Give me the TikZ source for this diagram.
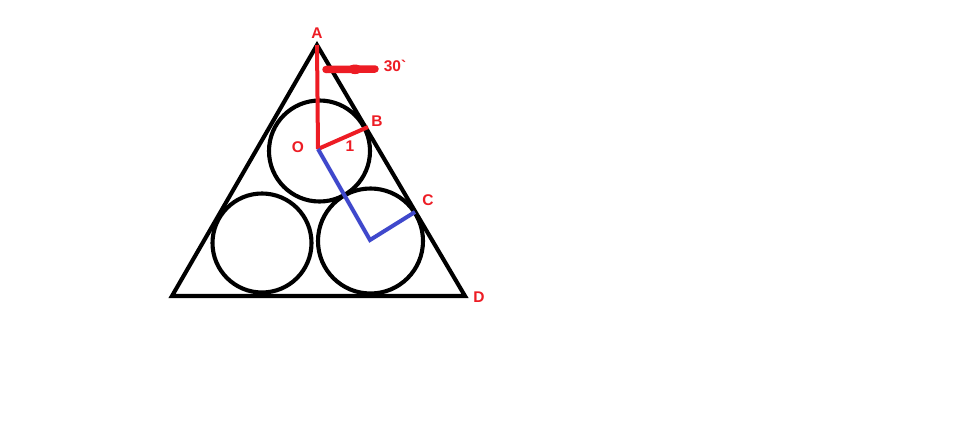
\documentclass[tikz,border=0pt]{standalone}
\usepackage{fontspec}
\newfontfamily\labfont{Liberation Sans}
\usetikzlibrary{arrows.meta}
\definecolor{pred}{RGB}{237,28,36}
\definecolor{pblue}{RGB}{63,72,204}
\tikzset{
  blk/.style={draw=black, line width=4.1pt},
  ball/.style={circle, draw=black, line width=4.1pt, inner sep=0pt},
  redln/.style={draw=pred, line width=4pt},
  blueln/.style={draw=pblue, line width=4pt},
  lab/.style={text=pred, font=\labfont\bfseries\fontsize{15.5}{17}\selectfont, inner sep=0pt}
}
\begin{document}
\begin{tikzpicture}[x=1pt,y=-1pt]
\useasboundingbox[fill=white] (0,0) rectangle (964,439);
% triangle
\coordinate (A) at (317,45);
\coordinate (L) at (172,296);
\coordinate (D) at (465,296);
\draw[blk, line join=miter] (A) -- (L) -- (D) -- cycle;
% circles
\node[ball, minimum size=101pt] (top) at (319.5,151) {};
\node[ball, minimum size=99pt] (bl) at (262,243) {};
\node[ball, minimum size=105pt] (br) at (370.5,241) {};
% points
\coordinate (O) at (318,149);
\coordinate (B) at (368,127);
\coordinate (P) at (370,240);
\coordinate (C) at (415,212);
% red lines
\draw[redln] (A) -- (O);
\draw[redln] (O) -- (B);
% blue lines
\draw[blueln, line join=miter] (O) -- (P) -- (C);
% arrow (hand-drawn stroke with a slight bulge)
\coordinate (ar1) at (326,69.5);
\coordinate (ar2) at (375,69);
\draw[draw=pred, line width=7.5pt, line cap=round] (ar1) -- (ar2);
\fill[pred] (355,69.3) ellipse [x radius=7pt, y radius=4.8pt];
% labels
\node[lab] (lA) at (317,33) {A};
\node[lab] (l30) at (395,66) {30\textasciigrave};
\node[lab] (lB) at (377,121) {B};
\node[lab] (lO) at (298,147) {O};
\node[lab] (l1) at (350,146) {1};
\node[lab] (lC) at (428,200) {C};
\node[lab] (lD) at (479,297) {D};
\end{tikzpicture}
\end{document}
